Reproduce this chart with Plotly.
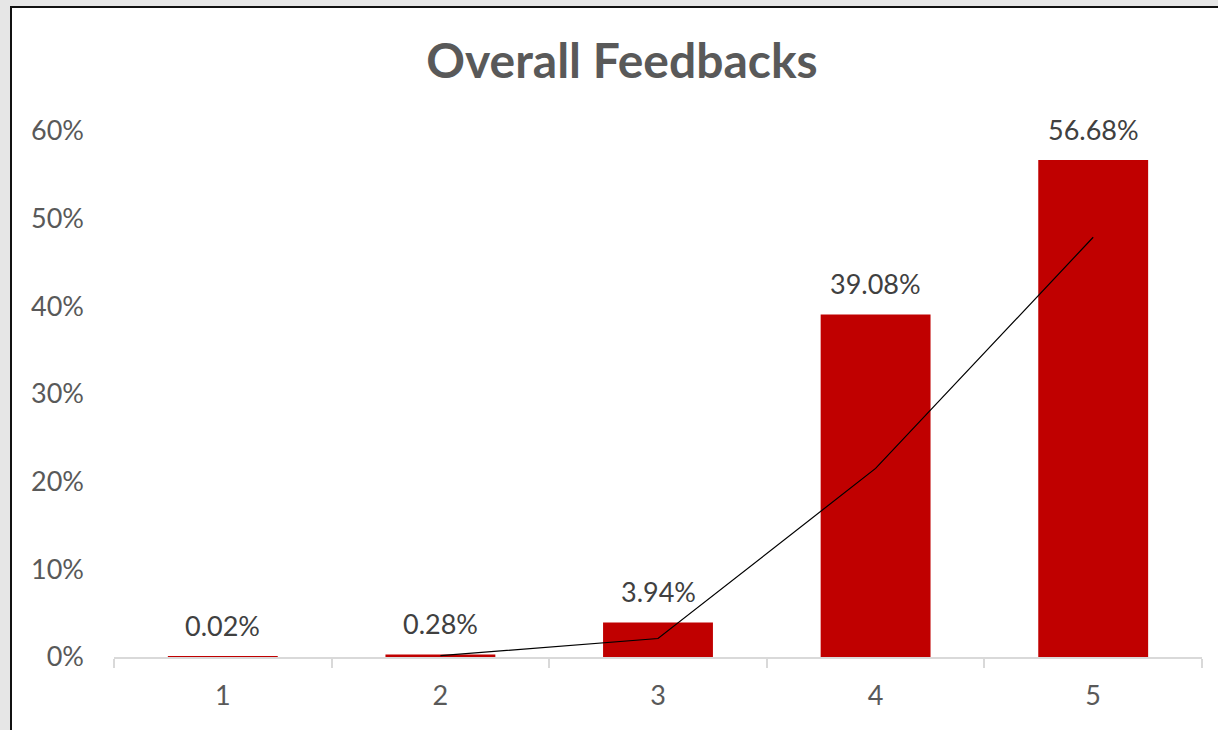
import plotly.graph_objects as go

categories = ["1", "2", "3", "4", "5"]
values = [0.0002, 0.0028, 0.0394, 0.3908, 0.5668]
labels = ["0.02%", "0.28%", "3.94%", "39.08%", "56.68%"]
y_ticks = [0, 0.1, 0.2, 0.3, 0.4, 0.5, 0.6]

# 2-period moving average trendline
ma_x = categories[1:]
ma_y = [(values[i - 1] + values[i]) / 2 for i in range(1, len(values))]

W, H = 1218, 730
ML, MR, MT, MB = 114, 16, 131, 73
PW, PH = W - ML - MR, H - MT - MB

def px_x(p):
    return (p - ML) / PW

def px_y(p):
    return (H - MB - p) / PH

font = "Lato, 'Open Sans', sans-serif"

fig = go.Figure()
fig.add_trace(go.Bar(
    x=categories, y=values, marker=dict(color="#c00000", line=dict(width=0)),
    width=0.505, hoverinfo="skip",
))
fig.add_trace(go.Scatter(
    x=ma_x, y=ma_y, mode="lines", line=dict(color="black", width=1.2),
    hoverinfo="skip",
))

for i, (v, t) in enumerate(zip(values, labels)):
    fig.add_annotation(x=i, y=v, text=t, showarrow=False, yanchor="middle",
                       yshift=31, font=dict(family=font, size=27, color="#404040"))

fig.add_shape(type="rect", xref="paper", yref="paper", layer="below",
              x0=px_x(11), x1=px_x(1240), y0=px_y(760), y1=px_y(7),
              fillcolor="white", line=dict(color="#111111", width=2))

fig.update_layout(
    width=W, height=H,
    margin=dict(l=ML, r=MR, t=MT, b=MB, pad=0),
    paper_bgcolor="#e6e6e6", plot_bgcolor="white",
    showlegend=False, bargap=0.5,
    title=dict(text="<b>Overall Feedbacks</b>", x=622 / W,
               xanchor="center", y=1 - 61 / H, yanchor="middle",
               font=dict(family=font, size=48, color="#595959")),
    xaxis=dict(
        type="category", range=[-0.5, 4.5], automargin=False,
        showline=True, linecolor="#d9d9d9", linewidth=2,
        ticks="outside", tickson="boundaries", ticklen=9, tickcolor="#d9d9d9",
        tickwidth=2, showgrid=False, zeroline=False,
        tickfont=dict(family=font, size=27, color="#595959"),
        ticklabelstandoff=14,
    ),
    yaxis=dict(
        range=[0, 0.6], tickvals=y_ticks, tickformat=".0%", showgrid=False,
        zeroline=False, showline=False, ticks="", automargin=False,
        tickfont=dict(family=font, size=27, color="#595959"),
        ticklabelstandoff=29,
    ),
)

fig.write_html(
    "out.html",
    config={"displayModeBar": False},
    post_script="document.body.style.margin='0';document.body.style.background='#e6e6e6';",
)
